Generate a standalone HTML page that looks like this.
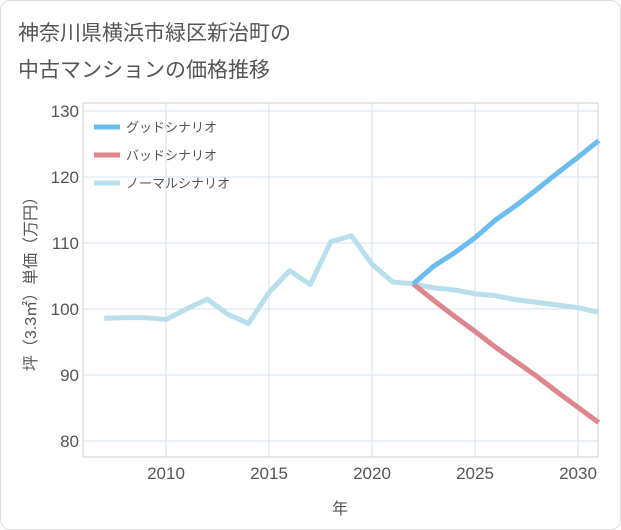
<!DOCTYPE html>
<html><head><meta charset="utf-8"><style>
body{margin:0;background:#fff;font-family:"Liberation Sans","Noto Sans CJK JP",sans-serif}
#card{position:absolute;left:0;top:0;width:619px;height:528px;border:1px solid #ddd;border-radius:10px;background:#fff}
</style></head><body>
<div id="card">
<svg id="chart" width="621" height="530" style="position:absolute;left:-1px;top:-1px">
<text x="18" y="40" font-size="21" fill="#555">神奈川県横浜市緑区新治町の</text>
<text x="18" y="77" font-size="21" fill="#555">中古マンションの価格推移</text>
<rect x="83" y="103" width="515" height="354" fill="none" stroke="#ccc"/>
<g id="grid"></g><g id="series"></g><g id="legend"></g>
<text x="340" y="514" font-size="16" fill="#555" text-anchor="middle">年</text>
<text transform="translate(36,280) rotate(-90)" font-size="16" fill="#555" text-anchor="middle">坪（3.3㎡）単価（万円）</text>
</svg></div>
<script>
const years=[2007,2008,2009,2010,2011,2012,2013,2014,2015,2016,2017,2018,2019,2020,2021,2022,2023,2024,2025,2026,2027,2028,2029,2030,2031];
const normal=[98.6,98.7,98.7,98.4,100,101.5,99.2,97.8,102.5,105.8,103.7,110.2,111.1,106.8,104.1,103.8,103.2,102.9,102.3,102,101.4,101,100.6,100.2,99.5];
const futureYears=[2022,2023,2024,2025,2026,2027,2028,2029,2030,2031];
const good=[103.8,106.5,108.5,110.8,113.5,115.7,118.1,120.6,123,125.5];
const bad=[103.8,101.3,98.9,96.6,94.2,92,89.8,87.4,85.1,82.8];
const xTicks=[2010,2015,2020,2025,2030];
const yTicks=[80,90,100,110,120,130];
const X=y=>166+(y-2010)*20.6;
const Y=v=>309-(v-100)*6.6;
const NS="http://www.w3.org/2000/svg";
function mk(t,a,p){const e=document.createElementNS(NS,t);for(const k in a)e.setAttribute(k,a[k]);p.appendChild(e);return e;}
const grid=document.getElementById('grid');
xTicks.forEach(t=>{const l=mk('line',{x1:X(t),x2:X(t),y1:103,y2:457,stroke:'#d5e2ec'},grid);


const tx=mk('text',{x:X(t),y:479,'font-size':17,fill:'#555','text-anchor':'middle'},grid);tx.textContent=t;

});
yTicks.forEach(t=>{const l=mk('line',{x1:83,x2:598,y1:Y(t),y2:Y(t),stroke:'#d5e2ec'},grid);


const tx=mk('text',{x:79,y:Y(t)+6,'font-size':17,fill:'#555','text-anchor':'end'},grid);tx.textContent=t;

});
const ser=document.getElementById('series');
function line(xs,vs,c,name){const p=mk('polyline',{points:xs.map((y,i)=>X(y)+','+Y(vs[i])).join(' '),fill:'none',stroke:c,'stroke-width':5,'stroke-linejoin':'round'},ser);

}
line(years,normal,'#b9dfec','normal-scenario-line');
line(futureYears,bad,'#dd868d','bad-scenario-line');
line(futureYears,good,'#6bbcef','good-scenario-line');
const leg=document.getElementById('legend');
[['グッドシナリオ','#6bbcef'],['バッドシナリオ','#dd868d'],['ノーマルシナリオ','#b9dfec']].forEach((d,i)=>{
const yy=127+i*28;
const l=mk('line',{x1:94,x2:120,y1:yy,y2:yy,stroke:d[1],'stroke-width':5},leg);


const t=mk('text',{x:126,y:yy+5,'font-size':13,fill:'#555'},leg);t.textContent=d[0];

});
</script>
</body></html>
